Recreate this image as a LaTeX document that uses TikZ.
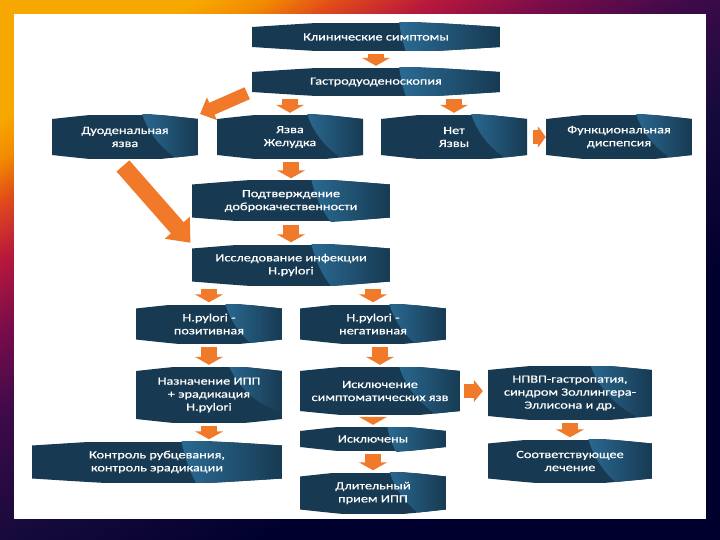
\documentclass[tikz,border=0pt]{standalone}
\usepackage{fontspec}
\setmainfont{Carlito}
\newfontfamily\boxfont{Carlito}[FakeStretch=1.3,FakeBold=0.6]
\usetikzlibrary{arrows.meta, calc}

\definecolor{boxnavy}{HTML}{173A52}
\definecolor{boxgloss}{HTML}{2B6C95}
\definecolor{arrorange}{HTML}{F07A2A}
\definecolor{frA}{HTML}{F7A800}
\definecolor{frB}{HTML}{F28A00}
\definecolor{frC}{HTML}{E04A1A}
\definecolor{frD}{HTML}{B8183C}
\definecolor{frE}{HTML}{7A0C4A}
\definecolor{frF}{HTML}{3E0A4A}
\definecolor{frG}{HTML}{160A3C}
\definecolor{frH}{HTML}{00002E}
\pgfdeclareverticalshading{framegrad}{100bp}{color(0bp)=(frH); color(35bp)=(frH);
  color(46bp)=(frG); color(55bp)=(frF); color(61bp)=(frE); color(66bp)=(frD);
  color(70bp)=(frC); color(73bp)=(frB); color(76bp)=(frA); color(100bp)=(frA)}

\begin{document}
\begin{tikzpicture}[x=1pt, y=-1pt]


% GLOBAL SETTINGS
\newcommand{\bulge}{4pt}
\tikzset{
  ubox/.style 2 args={minimum width=#1, minimum height=#2, inner sep=0pt,
    align=center, text=white, font=\boxfont\fontsize{11}{13}\selectfont,
    path picture={
      \begin{scope}
      \clip ([yshift=-\bulge]path picture bounding box.north west)
        .. controls ([yshift=\bulge]path picture bounding box.north) .. ([yshift=-\bulge]path picture bounding box.north east)
        -- ([yshift=\bulge]path picture bounding box.south east)
        .. controls ([yshift=-\bulge]path picture bounding box.south) .. ([yshift=\bulge]path picture bounding box.south west)
        -- cycle;
      \fill[boxnavy] (path picture bounding box.south west) rectangle (path picture bounding box.north east);
      \clip ([xshift=0.15*#1, yshift=0.6*#2]path picture bounding box.north east) circle[radius=0.56*#1];
      \shade[left color=boxgloss, right color=boxnavy]
        ([xshift=-0.42*#1]path picture bounding box.south east) rectangle (path picture bounding box.north east);
      \end{scope}
    }},
  flow/.style={draw=arrorange, line width=#1, shorten <=3pt, shorten >=2pt},
  small/.style={flow=16pt, -{Triangle[width=28pt, length=8pt]}}
}

% FRAME
\shade[shading=framegrad, shading angle=31] (0,0) rectangle (720,540);
\fill[white] (14,14) rectangle (706,519);
\useasboundingbox (0,0) rectangle (720,540);

% BOXES
\node[ubox={248pt}{28pt}] (symptoms) at (376,37) {Клинические симптомы};
\node[ubox={248pt}{28pt}] (egds) at (376,82) {Гастродуоденоскопия};
\node[ubox={146pt}{44pt}] (duod) at (125,137) {Дуоденальная\\язва};
\node[ubox={146pt}{44pt}] (stomach) at (290,137) {Язва\\Желудка};
\node[ubox={146pt}{44pt}] (noulcer) at (454,137) {Нет\\Язвы};
\node[ubox={146pt}{44pt}] (func) at (619,137) {Функциональная\\диспепсия};
\node[ubox={198pt}{41pt}] (benign) at (291,201) {Подтверждение\\доброкачественности};
\node[ubox={198pt}{41pt}] (hp) at (291,265) {Исследование инфекции\\H.pylori};
\node[ubox={146pt}{39pt}] (hppos) at (209,324) {H.pylori -\\позитивная};
\node[ubox={146pt}{39pt}] (hpneg) at (373,324) {H.pylori -\\негативная};
\node[ubox={146pt}{56pt}] (assign) at (209,395) {Назначение ИПП\\+ эрадикация\\H.pylori};
\node[ubox={161pt}{48pt}] (excl) at (380,391) {Исключение\\симптоматических язв};
\node[ubox={164pt}{54pt}] (nsaid) at (570,393) {НПВП-гастропатия,\\синдром Золлингера-\\Эллисона и др.};
\node[ubox={250pt}{41pt}] (control) at (157,462) {Контроль рубцевания,\\контроль эрадикации};
\node[ubox={146pt}{24pt}] (excluded) at (373,439) {Исключены};
\node[ubox={164pt}{43pt}] (treat) at (570,461) {Соответствующее\\лечение};
\node[ubox={146pt}{41pt}] (longppi) at (373,493) {Длительный\\прием ИПП};



% ARROWS
\foreach \a/\b in {symptoms/egds, egds/stomach, egds/noulcer, stomach/benign,
  benign/hp, hp/hppos, hp/hpneg, hppos/assign, hpneg/excl, excl/excluded,
  excluded/longppi, nsaid/treat}
  \draw[small] (\a.south -| \b.north) -- (\b.north);
\draw[small] (assign.south) -- (assign.south |- control.north);
\draw[flow=14pt, -{Triangle[width=21pt, length=8pt]}, shorten <=6pt, shorten >=0pt]
  (noulcer.east) -- (func.west);
\draw[flow=14pt, -{Triangle[width=22pt, length=9pt]}, shorten >=5pt]
  (excl.east) -- (excl.east -| nsaid.west);
\draw[flow=13pt, -{Triangle[width=24pt, length=13pt]}, shorten <=5pt]
  ([yshift=5pt]egds.south west) -- (duod.north east);
\draw[flow=17pt, -{Triangle[width=32pt, length=20pt]}, shorten <=9pt]
  ([xshift=-8pt]duod.south) -- (hp.north west);

\end{tikzpicture}
\end{document}
